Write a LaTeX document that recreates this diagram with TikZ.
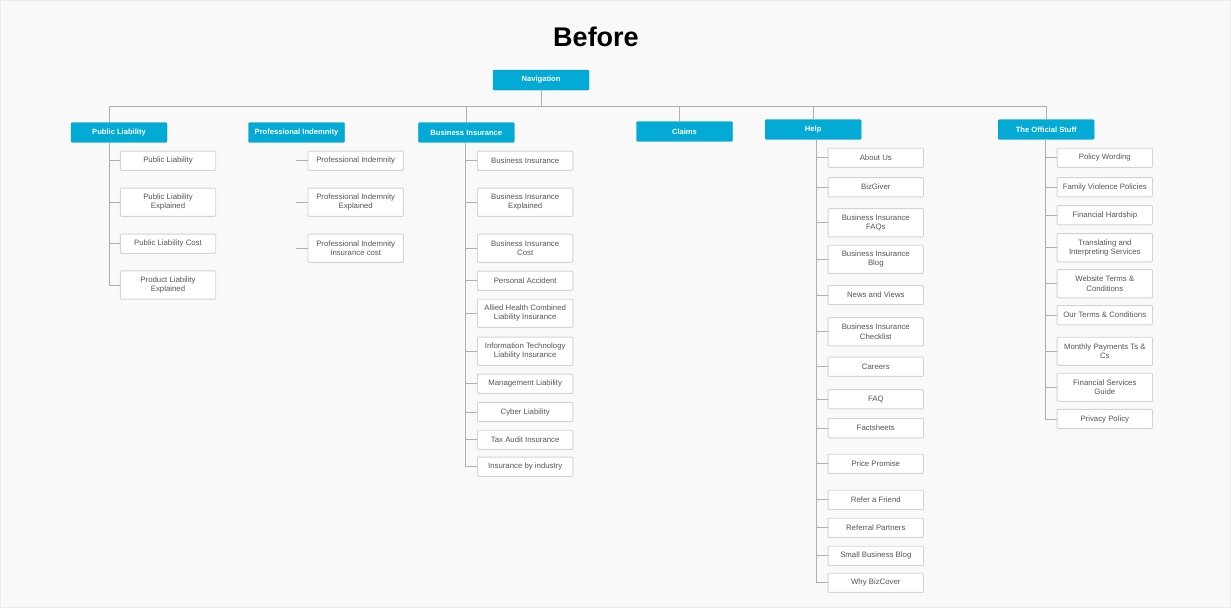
\documentclass[tikz,border=0pt]{standalone}
\usepackage{fontspec}
\setmainfont{Liberation Sans}
\definecolor{bgc}{HTML}{F9F9F9}
\definecolor{bgline}{HTML}{ECECEC}
\definecolor{hdrblue}{HTML}{02AAD5}
\definecolor{boxline}{HTML}{D4D4D4}
\definecolor{txtgrey}{HTML}{555555}
\definecolor{conngrey}{HTML}{AFAFAF}
\tikzset{
  hdr/.style={fill=hdrblue, draw=hdrblue!90!black, line width=0.3pt, rounded corners=1pt,
    minimum width=96pt, minimum height=19.6pt, inner sep=0pt, text=white,
    font=\fontsize{7.6}{9}\selectfont\bfseries},
  leaf/.style={fill=white, draw=boxline, line width=0.9pt, rounded corners=1pt,
    minimum width=95.4pt, minimum height=19.2pt, inner sep=0pt, text=txtgrey,
    align=center, font=\fontsize{7.8}{9.3}\selectfont},
  leaf2/.style={leaf, minimum height=28.2pt},
  conn/.style={draw=conngrey, line width=0.9pt}
}
\begin{document}
\begin{tikzpicture}[x=1pt, y=-1pt]
\fill[bgc] (0,0) rectangle (1231,608);
\draw[bgline, line width=0.8pt] (0.4,0.4) rectangle (1230.6,607.6);
\useasboundingbox (0,0) rectangle (1231,608);

\node[font=\fontsize{27}{30}\selectfont\bfseries, text=black] (title) at (596,37) {Before};

% headers
\node[hdr, minimum height=20pt] (nav) at (541,80) {Navigation};
\node[hdr] (hPL) at (119,132.5) {Public Liability};
\node[hdr] (hPI) at (296.5,132.5) {Professional Indemnity};
\node[hdr] (hBI) at (466.3,132.5) {Business Insurance};
\node[hdr] (hCl) at (684.5,131.5) {Claims};
\node[hdr] (hHe) at (813.2,129.5) {Help};
\node[hdr] (hOS) at (1046.2,129.5) {The Official Stuff};

% top connectors
\coordinate (busL) at (109.3,106);
\coordinate (busR) at (1046.3,106);
\coordinate (dBI) at (466.7,106);
\coordinate (dCl) at (679.3,106);
\coordinate (dHe) at (813.3,106);
\draw[conn] (nav.south) -- (nav.south |- busL);
\draw[conn] (busL) -- (busR);
\draw[conn] (busL) -- (busL |- hPL.north);
\draw[conn] (dBI) -- (dBI |- hBI.north);
\draw[conn] (dCl) -- (dCl |- hCl.north);
\draw[conn] (dHe) -- (dHe |- hHe.north);
\draw[conn] (busR) -- (busR |- hOS.north);

% Public Liability
\node[leaf]  (pl1) at (168,160.7) {Public Liability};
\node[leaf2] (pl2) at (168,202.2) {Public Liability\\Explained};
\node[leaf]  (pl3) at (168,243.7) {Public Liability Cost};
\node[leaf2] (pl4) at (168,285) {Product Liability\\Explained};
\coordinate (tPL) at (109.3,142);
\draw[conn] (tPL) |- (pl4.west);
\foreach \c in {pl1,pl2,pl3} \draw[conn] (\c.west) -- (\c.west -| tPL);

% Professional Indemnity
\node[leaf]  (pi1) at (355.7,160.7) {Professional Indemnity};
\node[leaf2] (pi2) at (355.7,202.2) {Professional Indemnity\\Explained};
\node[leaf2] (pi3) at (355.7,248.2) {Professional Indemnity\\Insurance cost};
\coordinate (tPI) at (296,142);
\foreach \c in {pi1,pi2,pi3} \draw[conn] (\c.west) -- (\c.west -| tPI);

% Business Insurance
\node[leaf]  (bi1) at (525.2,160.7) {Business Insurance};
\node[leaf2] (bi2) at (525.2,202.2) {Business Insurance\\Explained};
\node[leaf2] (bi3) at (525.2,248.2) {Business Insurance\\Cost};
\node[leaf]  (bi4) at (525.2,280.7) {Personal Accident};
\node[leaf2] (bi5) at (525.2,313.3) {Allied Health Combined\\Liability Insurance};
\node[leaf2] (bi6) at (525.2,351.2) {Information Technology\\Liability Insurance};
\node[leaf]  (bi7) at (525.2,383.7) {Management Liability};
\node[leaf]  (bi8) at (525.2,412) {Cyber Liability};
\node[leaf]  (bi9) at (525.2,439.8) {Tax Audit Insurance};
\node[leaf]  (bi10) at (525.2,466.7) {Insurance by industry};
\coordinate (tBI) at (465.3,142);
\draw[conn] (tBI) |- (bi10.west);
\foreach \c in {bi1,bi2,bi3,bi4,bi5,bi6,bi7,bi8,bi9} \draw[conn] (\c.west) -- (\c.west -| tBI);

% Help
\node[leaf]  (he1) at (875.8,157.8) {About Us};
\node[leaf]  (he2) at (875.8,187.2) {BizGiver};
\node[leaf2] (he3) at (875.8,222.7) {Business Insurance\\FAQs};
\node[leaf2] (he4) at (875.8,259.3) {Business Insurance\\Blog};
\node[leaf]  (he5) at (875.8,295) {News and Views};
\node[leaf2] (he6) at (875.8,331.7) {Business Insurance\\Checklist};
\node[leaf]  (he7) at (875.8,366.7) {Careers};
\node[leaf]  (he8) at (875.8,399.2) {FAQ};
\node[leaf]  (he9) at (875.8,428.2) {Factsheets};
\node[leaf]  (he10) at (875.8,463.8) {Price Promise};
\node[leaf]  (he11) at (875.8,499.8) {Refer a Friend};
\node[leaf]  (he12) at (875.8,527.8) {Referral Partners};
\node[leaf]  (he13) at (875.8,555.8) {Small Business Blog};
\node[leaf]  (he14) at (875.8,582.8) {Why BizCover};
\coordinate (tHe) at (816.7,139.3);
\draw[conn] (tHe) |- (he14.west);
\foreach \c in {he1,he2,he3,he4,he5,he6,he7,he8,he9,he10,he11,he12,he13} \draw[conn] (\c.west) -- (\c.west -| tHe);

% The Official Stuff
\node[leaf]  (os1) at (1104.8,157.8) {Policy Wording};
\node[leaf]  (os2) at (1104.8,187.2) {Family Violence Policies};
\node[leaf]  (os3) at (1104.8,215.2) {Financial Hardship};
\node[leaf2] (os4) at (1104.8,247.7) {Translating and\\Interpreting Services};
\node[leaf2] (os5) at (1104.8,283.7) {Website Terms \&\\Conditions};
\node[leaf]  (os6) at (1104.8,315.2) {Our Terms \& Conditions};
\node[leaf2] (os7) at (1104.8,351.3) {Monthly Payments Ts \&\\Cs};
\node[leaf2] (os8) at (1104.8,387.3) {Financial Services\\Guide};
\node[leaf]  (os9) at (1104.8,419) {Privacy Policy};
\coordinate (tOS) at (1045.3,139.3);
\draw[conn] (tOS) |- (os9.west);
\foreach \c in {os1,os2,os3,os4,os5,os6,os7,os8} \draw[conn] (\c.west) -- (\c.west -| tOS);
\end{tikzpicture}
\end{document}
